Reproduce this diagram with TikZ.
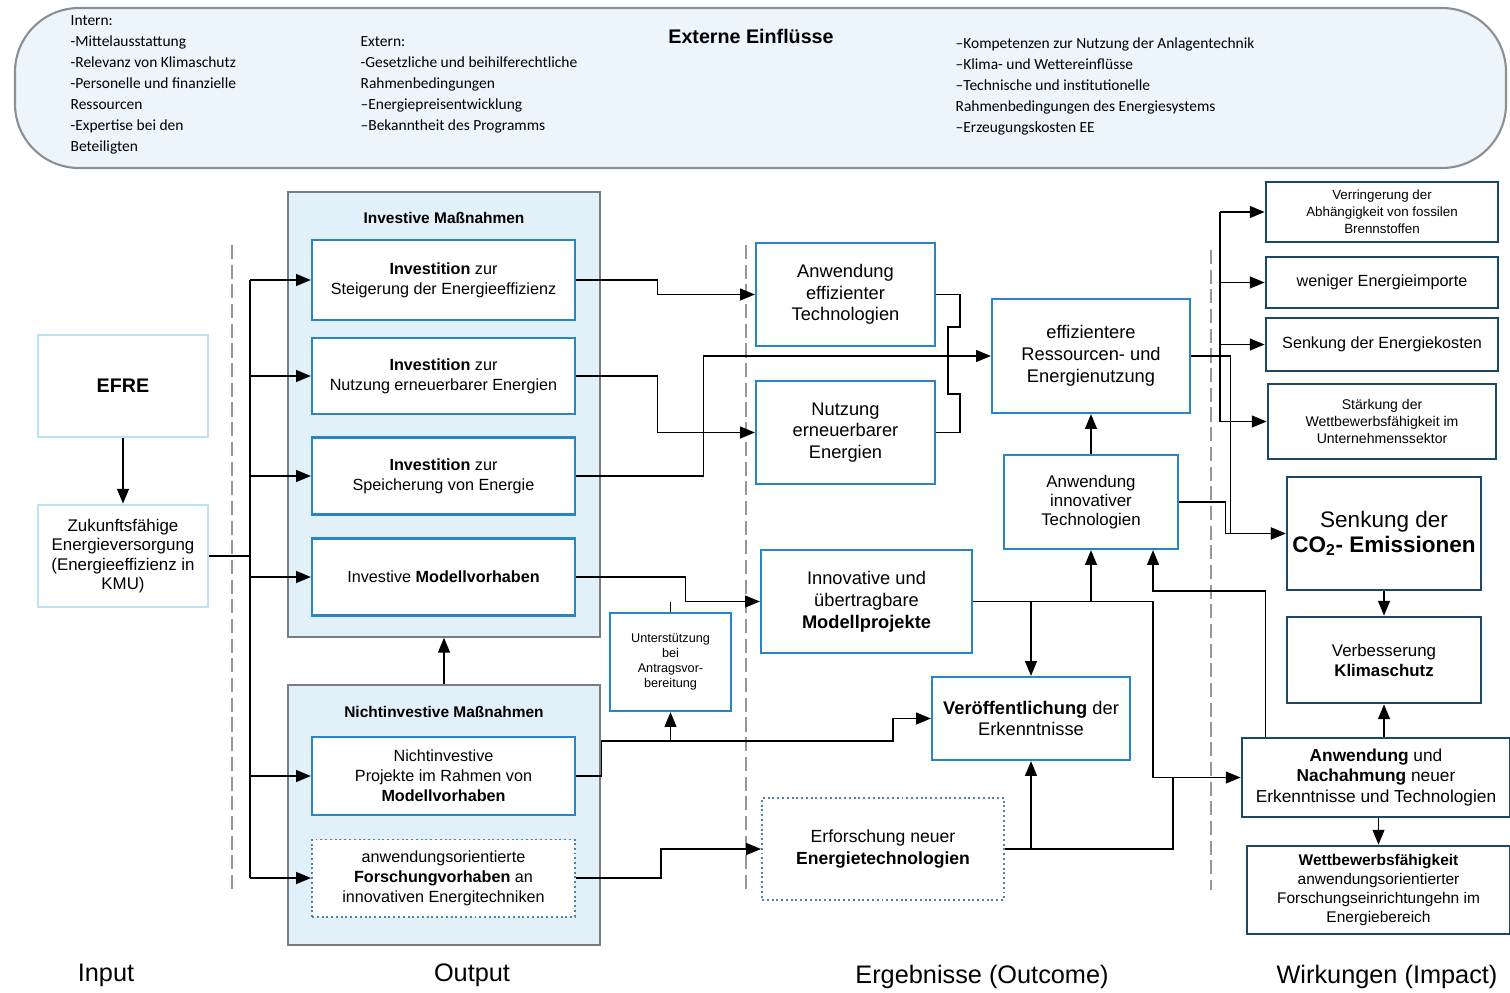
\documentclass[tikz,border=0pt]{standalone}
\usepackage{fontspec}
\setmainfont{Liberation Sans}
\newfontfamily\bannerfont{Carlito}
\usepackage{tikz}
\usetikzlibrary{shapes,arrows.meta,calc}
\definecolor{boxblue}{RGB}{41,134,196}
\definecolor{impblue}{RGB}{28,72,104}
\definecolor{inblue}{RGB}{190,226,244}
\definecolor{grpfill}{RGB}{226,240,250}
\definecolor{grpline}{RGB}{120,125,130}
\definecolor{bannerfill}{RGB}{235,245,251}
\definecolor{bannerline}{RGB}{140,143,146}
\definecolor{sepgray}{RGB}{150,150,150}
\tikzset{
inbox/.style = {draw=inblue, line width=2pt, fill=white, rectangle, align=center, minimum width=4.25cm, minimum height=2.55cm},
outbox/.style = {draw=boxblue, line width=1.6pt, fill=white, rectangle, align=center, inner sep=1pt},
dotbox/.style = {draw=boxblue!60!gray, dotted, line width=1.4pt, fill=white, rectangle, align=center, inner sep=1pt},
impbox/.style = {draw=impblue, line width=2pt, fill=white, rectangle, align=center, inner sep=1pt},
grpbox/.style = {draw=grpline, line width=1pt, fill=grpfill, rectangle, minimum width=7.8cm},
grptitle/.style = {font=\fontsize{11}{13}\selectfont\bfseries},
invsize/.style = {minimum width=6.575cm, font=\fontsize{11.5}{14.2}\selectfont},
sepline/.style = {draw=sepgray, line width=0.8pt, dash pattern=on 10pt off 4pt},
banner/.style = {align=left, anchor=north west, inner sep=0pt, font=\bannerfont\fontsize{11}{14.9}\selectfont},
phase/.style = {font=\fontsize{18}{20}\selectfont}
}
\begin{document}
\begin{tikzpicture}[x=0.025cm, y=-0.025cm, line width=0.9pt, >={Triangle[length=10.5pt,width=8.5pt]}]
    \useasboundingbox (0,0) rectangle (1510,992);
    \draw[draw=bannerline, fill=bannerfill, line width=1.5pt, rounded corners=1.6cm] (15,8) rectangle (1506,168);
    \node[banner] (intern) at (70,15) {Intern:\\-Mittelausstattung\\-Relevanz von Klimaschutz\\-Personelle und finanzielle\\Ressourcen\\-Expertise bei den\\Beteiligten};
    \node[banner] (extern) at (360,36) {Extern:\\-Gesetzliche und beihilferechtliche\\Rahmenbedingungen\\–Energiepreisentwicklung\\–Bekanntheit des Programms};
    \node[banner] (system) at (955,37) {–Kompetenzen zur Nutzung der Anlagentechnik\\–Klima- und Wettereinflüsse\\–Technische und institutionelle\\Rahmenbedingungen des Energiesystems\\–Erzeugungskosten EE};
    \node[font=\fontsize{14}{16}\selectfont\bfseries] (einfl) at (751,36) {Externe Einflüsse};

    \draw[sepline] (232,245) -- (232,890);
    \draw[sepline] (746,245) -- (746,890);
    \draw[sepline] (1211,250) -- (1211,890);

    \node[inbox, font=\fontsize{14}{16}\selectfont\bfseries] (efre) at (123,386) {EFRE};
    \node[inbox, font=\fontsize{12}{13.7}\selectfont] (zukunft) at (123,556) {Zukunftsfähige\\Energieversorgung\\(Energieeffizienz in\\KMU)};

    \node[grpbox, minimum height=11.125cm] (invgrp) at (444,414.5) {};
    \node[grptitle] (invtitle) at (444,218) {Investive Maßnahmen};
    \node[grpbox, minimum height=6.5cm] (nigrp) at (444,815) {};
    \node[grptitle] (nititle) at (444,712) {Nichtinvestive Maßnahmen};

    \node[outbox, invsize, minimum height=2cm] (inv1) at (443.5,280) {\textbf{Investition} zur\\Steigerung der Energieeffizienz};
    \node[outbox, invsize, minimum height=1.9cm] (inv2) at (443.5,376) {\textbf{Investition} zur\\Nutzung erneuerbarer Energien};
    \node[outbox, invsize, minimum height=1.925cm] (inv3) at (443.5,476) {\textbf{Investition} zur\\Speicherung von Energie};
    \node[outbox, invsize, minimum height=1.925cm] (inv4) at (443.5,577) {Investive \textbf{Modellvorhaben}};
    \node[outbox, invsize, minimum height=1.95cm] (ni1) at (443.5,776) {Nichtinvestive\\Projekte im Rahmen von\\\textbf{Modellvorhaben}};
    \node[dotbox, invsize, minimum height=1.925cm] (ni2) at (443.5,878) {anwendungsorientierte\\\textbf{Forschungvorhaben} an\\innovativen Energitechniken};
    \node[outbox, minimum width=3.025cm, minimum height=2.45cm, font=\fontsize{9}{10.8}\selectfont] (unterst) at (670.5,662) {Unterstützung\\bei\\Antragsvor-\\bereitung};

    \node[outbox, minimum width=4.475cm, minimum height=2.575cm, font=\fontsize{13}{15.2}\selectfont] (anweff) at (845.5,294.5) {Anwendung\\effizienter\\Technologien};
    \node[outbox, minimum width=4.475cm, minimum height=2.575cm, font=\fontsize{13}{15.2}\selectfont] (nutzee) at (845.5,432.5) {Nutzung\\erneuerbarer\\Energien};
    \node[outbox, minimum width=5.275cm, minimum height=2.575cm, font=\fontsize{13}{15.5}\selectfont] (modell) at (866.5,601.5) {Innovative und\\übertragbare\\\textbf{Modellprojekte}};
    \node[outbox, minimum width=4.95cm, minimum height=2.075cm, font=\fontsize{13}{14.9}\selectfont] (veroeff) at (1031,718.5) {\textbf{Veröffentlichung} der\\Erkenntnisse};
    \node[dotbox, minimum width=6.05cm, minimum height=2.55cm, font=\fontsize{12.5}{15.6}\selectfont] (erforsch) at (883,849) {Erforschung neuer\\\textbf{Energietechnologien}};
    \node[outbox, minimum width=4.95cm, minimum height=2.85cm, font=\fontsize{13}{15.5}\selectfont] (effiz) at (1091,356) {effizientere\\Ressourcen- und\\Energienutzung};
    \node[outbox, minimum width=4.35cm, minimum height=2.35cm, font=\fontsize{12}{13.5}\selectfont] (anwinno) at (1091,502) {Anwendung\\innovativer\\Technologien};

    \node[impbox, minimum width=5.8cm, minimum height=1.5cm, font=\fontsize{9.5}{12}\selectfont] (verring) at (1382,212) {Verringerung der\\Abhängigkeit von fossilen\\Brennstoffen};
    \node[impbox, minimum width=5.8cm, minimum height=1.275cm, font=\fontsize{11.5}{13}\selectfont] (weniger) at (1382,282.5) {weniger Energieimporte};
    \node[impbox, minimum width=5.8cm, minimum height=1.325cm, font=\fontsize{11.5}{13}\selectfont] (senkek) at (1382,344.5) {Senkung der Energiekosten};
    \node[impbox, minimum width=5.7cm, minimum height=1.875cm, font=\fontsize{10}{12}\selectfont] (staerk) at (1382,421.5) {Stärkung der\\Wettbewerbsfähigkeit im\\Unternehmenssektor};
    \node[impbox, minimum width=4.85cm, minimum height=2.825cm, font=\fontsize{16}{17.7}\selectfont] (co2) at (1384,533.5) {Senkung der\\\textbf{CO\textsubscript{2}- Emissionen}};
    \node[impbox, minimum width=4.85cm, minimum height=2.15cm, font=\fontsize{12}{14.2}\selectfont] (klima) at (1384,660) {Verbesserung\\\textbf{Klimaschutz}};
    \node[impbox, minimum width=6.7cm, minimum height=1.975cm, font=\fontsize{12.3}{14.5}\selectfont] (nachahm) at (1376,777.5) {\textbf{Anwendung} und\\\textbf{Nachahmung} neuer\\Erkenntnisse und Technologien};
    \node[impbox, minimum width=6.575cm, minimum height=2.2cm, font=\fontsize{11}{13.7}\selectfont] (wettb) at (1378.5,890) {\textbf{Wettbewerbsfähigkeit}\\anwendungsorientierter\\Forschungseinrichtungehn im\\Energiebereich};

    \node[phase] (input) at (106,975) {Input};
    \node[phase] (output) at (472,975) {Output};
    \node[phase] (outcome) at (982,977) {Ergebnisse (Outcome)};
    \node[phase] (impact) at (1387,977) {Wirkungen (Impact)};

    \coordinate (bustop) at (250,280);
    \coordinate (busbot) at (250,878);
    \coordinate (jn) at (1153,777.5);
    \coordinate (impbus) at (1220,212);

    \draw[->] (efre) -- (zukunft);
    \draw (bustop) -- (busbot);
    \draw (zukunft.east) -- (zukunft.east -| bustop);
    \foreach \n in {inv1,inv2,inv3,inv4,ni1,ni2}
        \draw[->] (\n.west -| bustop) -- (\n.west);
    \draw[->] (nigrp.north) -- (invgrp.south);

    \draw[->] (inv1.east) -- ++(81,0) |- (anweff.west);
    \draw[->] (inv2.east) -- ++(81,0) |- (nutzee.west);
    \draw[->] (inv3.east) -- ++(127,0) |- (effiz.west);
    \draw[->] (inv4.east) -- ++(109,0) |- (modell.west);
    \draw (unterst.north) -- (unterst.north |- modell.west);
    \draw[->] (ni1.east) -- ++(25,0) |- (893,741) |- (veroeff.west);
    \draw[->] (unterst.south) ++(0,30) -- (unterst.south);
    \draw[->] (ni2.east) -- ++(85,0) |- (erforsch.west);
    \draw (anweff.east) -| (960,327) -| (948,394) -| (960,432.5) -- (nutzee.east);

    \draw[->] (modell.east) -| (jn) -- (nachahm.west);
    \draw[->] (veroeff.north |- modell.east) -- (veroeff.north);
    \draw[->] (anwinno.south |- modell.east) -- (anwinno.south);
    \draw (erforsch.east) -| (1173,777.5);
    \draw[->] (veroeff.south |- erforsch.east) -- (veroeff.south);
    \draw[->] (nachahm.north west) ++(25,0) |- (1153,591) -- (1153,0 |- anwinno.south);
    \draw[->] (anwinno) -- (effiz);

    \draw[->] (effiz.east) -- ++(39,0) |- (co2.west);
    \draw[->] (anwinno.east) -- ++(46,0) |- (co2.west);
    \draw (impbus) -- (impbus |- staerk.west);
    \foreach \n in {verring,weniger,senkek,staerk}
        \draw[->] (\n.west -| impbus) -- (\n.west);
    \draw[->] (co2) -- (klima);
    \draw[->] (nachahm.north -| klima) -- (klima);
    \draw[->] (nachahm.south -| wettb) -- (wettb);
\end{tikzpicture}
\end{document}
